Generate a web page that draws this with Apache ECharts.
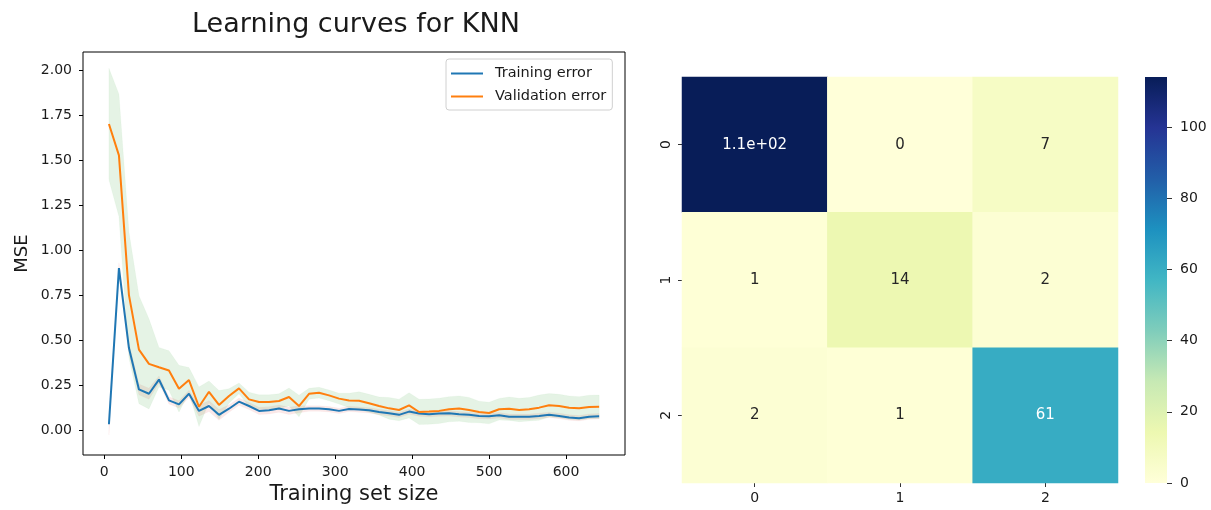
<!DOCTYPE html>
<html>
<head>
<meta charset="utf-8">
<script src="https://cdn.jsdelivr.net/npm/echarts@6/dist/echarts.min.js"></script>
<style>
html,body{margin:0;padding:0;background:#fff;}
#chart{width:1211px;height:510px;}
</style>
</head>
<body>
<div id="chart"></div>
<script>
// ---- Learning curve data ----
const trainSizes = [6, 19, 32, 45, 58, 71, 84, 97, 110, 123,
  136, 149, 162, 175, 188, 201, 214, 227, 240, 253,
  266, 279, 292, 305, 318, 331, 344, 357, 370, 383,
  396, 409, 422, 435, 448, 461, 474, 487, 500, 513,
  526, 539, 552, 565, 578, 591, 604, 617, 630, 643];
const trainError = [0.033, 0.90, 0.456, 0.226, 0.202, 0.281, 0.165, 0.143, 0.202, 0.107,
  0.134, 0.085, 0.119, 0.158, 0.134, 0.107, 0.110, 0.120, 0.107, 0.116,
  0.120, 0.120, 0.116, 0.107, 0.118, 0.114, 0.110, 0.101, 0.094, 0.085,
  0.103, 0.092, 0.088, 0.092, 0.094, 0.088, 0.085, 0.079, 0.077, 0.083,
  0.074, 0.074, 0.074, 0.079, 0.085, 0.079, 0.070, 0.066, 0.075, 0.077];
const trainStd = [0.06, 0.03, 0.03, 0.03, 0.03, 0.02, 0.02, 0.02, 0.02, 0.03,
  0.03, 0.03, 0.02, 0.02, 0.02, 0.02, 0.02, 0.02, 0.02, 0.02,
  0.015, 0.015, 0.015, 0.015, 0.015, 0.015, 0.015, 0.015, 0.015, 0.015,
  0.015, 0.015, 0.015, 0.015, 0.015, 0.015, 0.015, 0.015, 0.015, 0.015,
  0.015, 0.015, 0.015, 0.015, 0.015, 0.015, 0.015, 0.015, 0.015, 0.015];
const valError = [1.70, 1.526, 0.75, 0.447, 0.368, 0.349, 0.331, 0.23, 0.278, 0.13,
  0.213, 0.14, 0.19, 0.232, 0.171, 0.156, 0.156, 0.162, 0.184, 0.134,
  0.202, 0.208, 0.193, 0.175, 0.165, 0.163, 0.149, 0.134, 0.121, 0.112,
  0.138, 0.101, 0.103, 0.107, 0.116, 0.12, 0.112, 0.101, 0.095, 0.116,
  0.119, 0.112, 0.116, 0.125, 0.138, 0.134, 0.125, 0.121, 0.129, 0.13];
const valStd = [0.31, 0.34, 0.35, 0.30, 0.25, 0.11, 0.11, 0.13, 0.07, 0.11,
  0.06, 0.08, 0.04, 0.03, 0.04, 0.04, 0.04, 0.04, 0.05, 0.06,
  0.03, 0.03, 0.03, 0.03, 0.04, 0.05, 0.05, 0.05, 0.06, 0.06,
  0.07, 0.07, 0.07, 0.07, 0.07, 0.07, 0.07, 0.06, 0.06, 0.06,
  0.065, 0.065, 0.065, 0.07, 0.065, 0.065, 0.065, 0.065, 0.065, 0.065];
const xTicks = [0, 100, 200, 300, 400, 500, 600];
const yTicks = [0, 0.25, 0.5, 0.75, 1.0, 1.25, 1.5, 1.75, 2.0];

// ---- Confusion matrix data ----
const cmLabels = ['0', '1', '2'];
const cmRow0 = [114, 0, 7];
const cmRow1 = [1, 14, 2];
const cmRow2 = [2, 1, 61];
const cbTicks = [0, 20, 40, 60, 80, 100];
const cmMax = 114;

const YlGnBu = ['#ffffd9', '#edf8b1', '#c7e9b4', '#7fcdbb', '#41b6c4', '#1d91c0', '#225ea8', '#253494', '#081d58'];
const FONT = 'DejaVu Sans';
const TXT = '#1a1a1a';

function fmt2g(v) {
  if (v === 0) return '0';
  const e = Math.floor(Math.log10(Math.abs(v)));
  if (e < -4 || e >= 2) {
    let s = v.toExponential(1);
    s = s.replace(/e([+-])(\d)$/, 'e$10$2');
    return s;
  }
  let s = v.toPrecision(2);
  if (s.indexOf('.') >= 0) s = s.replace(/\.?0+$/, '');
  return s;
}

const pairs = (ys) => trainSizes.map((x, i) => [x, ys[i]]);
const bandData = (mean, std) => trainSizes.map((x, i) => [x, mean[i] - std[i], mean[i] + std[i]]);

function bandRenderer(mean, std, color, opacity) {
  return function (params, api) {
    if (params.dataIndex !== 0) return null;
    const upper = [], lower = [];
    for (let i = 0; i < trainSizes.length; i++) {
      upper.push(api.coord([trainSizes[i], mean[i] + std[i]]));
      lower.push(api.coord([trainSizes[i], mean[i] - std[i]]));
    }
    const pts = upper.concat(lower.reverse());
    return {
      type: 'polygon',
      shape: { points: pts },
      style: { fill: color, opacity: opacity, stroke: color, lineWidth: 0.6, strokeOpacity: 0.5 },
      silent: true
    };
  };
}

const cmRows = [cmRow0, cmRow1, cmRow2];
const heatData = [];
cmRows.forEach((row, r) => row.forEach((v, c) => {
  heatData.push({ value: [c, r, v], label: { color: v / cmMax > 0.45 ? '#ffffff' : '#262626' } });
}));

const chart = echarts.init(document.getElementById('chart'), null, { renderer: 'canvas' });
const option = {
  animation: false,
  backgroundColor: '#ffffff',
  textStyle: { fontFamily: FONT },
  title: {
    text: 'Learning curves for KNN',
    left: 351, top: 6, textAlign: 'center',
    textStyle: { fontFamily: FONT, fontSize: 27, fontWeight: 'normal', color: TXT }
  },
  legend: {
    data: ['Training error', 'Validation error'],
    orient: 'vertical',
    left: 446, top: 59,
    padding: [6, 6, 5, 5],
    itemGap: 6,
    itemWidth: 32, itemHeight: 2,
    icon: 'rect',
    borderColor: '#d0d0d0', borderWidth: 1, borderRadius: 3,
    backgroundColor: 'rgba(255,255,255,0.85)',
    textStyle: { fontFamily: FONT, fontSize: 14.5, color: TXT, lineHeight: 17, padding: [0, 0, 0, 7] }
  },
  grid: [
    { left: 83, right: 586, top: 52, bottom: 52, show: true, borderColor: '#000', borderWidth: 1, backgroundColor: 'transparent' },
    { left: 682, right: 93, top: 77, bottom: 27 },
    { left: 1145, width: 22, top: 77, bottom: 27 }
  ],
  xAxis: [
    {
      gridIndex: 0, type: 'value', min: -27.7, max: 676.6,
      name: 'Training set size', nameLocation: 'middle', nameGap: 29,
      nameTextStyle: { fontFamily: FONT, fontSize: 21, color: TXT },
      axisLine: { show: false, onZero: false },
      axisTick: { show: true, inside: false, length: 4, customValues: xTicks, lineStyle: { color: '#000' } },
      axisLabel: { customValues: xTicks, fontFamily: FONT, fontSize: 14, color: TXT, margin: 10 },
      splitLine: { show: false }
    },
    {
      gridIndex: 1, type: 'category', data: cmLabels,
      axisLine: { show: false },
      axisTick: { show: true, alignWithLabel: true, length: 4, lineStyle: { color: '#333' } },
      axisLabel: { fontFamily: FONT, fontSize: 14, color: TXT, margin: 8 },
      splitLine: { show: false }
    },
    {
      gridIndex: 2, type: 'category', data: ['cb'], show: false
    }
  ],
  yAxis: [
    {
      gridIndex: 0, type: 'value', min: -0.138, max: 2.1,
      name: 'MSE', nameLocation: 'middle', nameGap: 52,
      nameTextStyle: { fontFamily: FONT, fontSize: 18, color: TXT },
      axisLine: { show: false, onZero: false },
      axisTick: { show: true, length: 4, customValues: yTicks, lineStyle: { color: '#000' } },
      axisLabel: { customValues: yTicks, fontFamily: FONT, fontSize: 14, color: TXT, margin: 11,
        formatter: v => v.toFixed(2) },
      splitLine: { show: false }
    },
    {
      gridIndex: 1, type: 'category', data: cmLabels, inverse: true,
      axisLine: { show: false },
      axisTick: { show: true, alignWithLabel: true, length: 4, lineStyle: { color: '#333' } },
      axisLabel: { fontFamily: FONT, fontSize: 14, color: TXT, margin: 9, rotate: 90 },
      splitLine: { show: false }
    },
    {
      gridIndex: 2, type: 'value', min: 0, max: cmMax, interval: 20, position: 'right',
      axisLine: { show: false },
      axisTick: { show: true, length: 5, lineStyle: { color: '#333' } },
      axisLabel: { fontFamily: FONT, fontSize: 14, color: TXT, margin: 13, showMaxLabel: false },
      splitLine: { show: false }
    }
  ],
  visualMap: {
    show: false, type: 'continuous', min: 0, max: cmMax, seriesIndex: 4, dimension: 2,
    inRange: { color: YlGnBu }
  },
  series: [
    { name: 'trainBand', type: 'custom', xAxisIndex: 0, yAxisIndex: 0, data: bandData(trainError, trainStd),
      renderItem: bandRenderer(trainError, trainStd, '#d62728', 0.1), silent: true, z: 1 },
    { name: 'valBand', type: 'custom', xAxisIndex: 0, yAxisIndex: 0, data: bandData(valError, valStd),
      renderItem: bandRenderer(valError, valStd, '#2ca02c', 0.12), silent: true, z: 2 },
    { name: 'Training error', type: 'line', xAxisIndex: 0, yAxisIndex: 0, data: pairs(trainError),
      symbol: 'none', color: '#1f77b4', lineStyle: { width: 2, color: '#1f77b4' }, z: 5 },
    { name: 'Validation error', type: 'line', xAxisIndex: 0, yAxisIndex: 0, data: pairs(valError),
      symbol: 'none', color: '#ff7f0e', lineStyle: { width: 2, color: '#ff7f0e' }, z: 6 },
    { name: 'cm', type: 'heatmap', xAxisIndex: 1, yAxisIndex: 1, data: heatData,
      label: { show: true, fontFamily: FONT, fontSize: 15, formatter: p => fmt2g(p.value[2]) },
      itemStyle: { borderWidth: 0 } },
    { name: 'colorbar', type: 'bar', xAxisIndex: 2, yAxisIndex: 2, data: [cmMax], barWidth: '100%', silent: true,
      itemStyle: { color: new echarts.graphic.LinearGradient(0, 1, 0, 0,
        YlGnBu.map((c, i) => ({ offset: i / (YlGnBu.length - 1), color: c }))) } }
  ]
};
chart.setOption(option);
</script>
</body>
</html>
